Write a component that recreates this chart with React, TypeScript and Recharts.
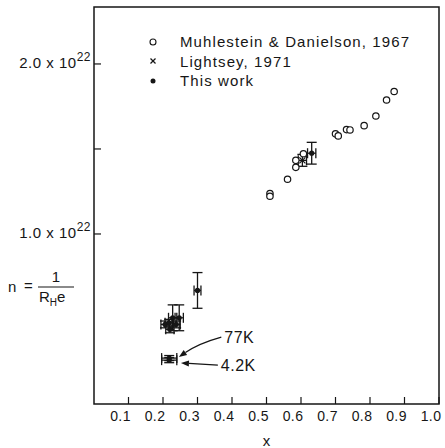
import React from 'react'
import { ScatterChart, Scatter, XAxis, YAxis, ErrorBar, ReferenceArea, ReferenceLine, Legend } from 'recharts'

// values of n are in units of 10^22
const xTicks = [0.1, 0.2, 0.3, 0.4, 0.5, 0.6, 0.7, 0.8, 0.9, 1.0]
const yTicks = [1.0, 1.5, 2.0]
const yTickLabels: Record<string, string> = { '1': '1.0', '2': '2.0' }

const seriesNames = ['Muhlestein & Danielson, 1967', 'Lightsey, 1971', 'This work']

const muhlesteinX = [0.51, 0.51, 0.561, 0.585, 0.585, 0.607, 0.70, 0.708, 0.732, 0.742, 0.783, 0.817, 0.848, 0.870]
const muhlesteinN = [1.238, 1.222, 1.322, 1.392, 1.433, 1.472, 1.589, 1.577, 1.614, 1.612, 1.637, 1.694, 1.788, 1.838]

const lightseyX = [0.604]
const lightseyN = [1.433]
const lightseyErrX = [0.012]
const lightseyErrN = [0.035]

const thisWorkX = [0.30, 0.228, 0.247, 0.206, 0.22, 0.238, 0.218, 0.218, 0.218, 0.631]
const thisWorkN = [0.668, 0.507, 0.507, 0.468, 0.439, 0.468, 0.478, 0.27, 0.258, 1.475]
const thisWorkErrX = [0.01, 0.012, 0.012, 0.012, 0.012, 0.012, 0.012, 0.022, 0.022, 0.012]
const thisWorkErrN = [0.105, 0.076, 0.076, 0.02, 0.02, 0.02, 0.02, 0.015, 0.015, 0.064]

const annoLabels = ['77K', '4.2K']
const annoFromX = [0.369, 0.359]
const annoFromN = [0.394, 0.229]
const annoToX = [0.246, 0.252]
const annoToN = [0.276, 0.241]
const annoBend = [4, 0]

const muhlestein = muhlesteinX.map((x, i) => ({ x, y: muhlesteinN[i] }))
const lightsey = lightseyX.map((x, i) => ({ x, y: lightseyN[i], ex: lightseyErrX[i], ey: lightseyErrN[i] }))
const thisWork = thisWorkX.map((x, i) => ({ x, y: thisWorkN[i], ex: thisWorkErrX[i], ey: thisWorkErrN[i] }))

const font = "'Liberation Sans', Arial, sans-serif"
const ink = '#161616'

const Circle = (p: any) => <circle cx={p.cx} cy={p.cy} r={3.2} fill="#fff" stroke={ink} strokeWidth={1.2} />
const Dot = (p: any) => <circle cx={p.cx} cy={p.cy} r={2.6} fill={ink} />
const Cross = (p: any) => (
  <g stroke={ink} strokeWidth={1.3}>
    <line x1={p.cx - 3} y1={p.cy - 3} x2={p.cx + 3} y2={p.cy + 3} />
    <line x1={p.cx - 3} y1={p.cy + 3} x2={p.cx + 3} y2={p.cy - 3} />
  </g>
)

const XTick = ({ x, y, payload }: any) => (
  <g>
    <line x1={x} y1={y} x2={x} y2={y - 7} stroke={ink} strokeWidth={1.2} />
    <text x={x - 8} y={y + 17} textAnchor="middle" fontSize={14} letterSpacing={0.4} fill={ink} style={{ fontFamily: font }}>
      {payload.value.toFixed(1)}
    </text>
  </g>
)

const YTick = ({ x, y, payload }: any) => {
  const lab = yTickLabels[String(payload.value)]
  return (
    <g>
      <line x1={x} y1={y} x2={x + 7} y2={y} stroke={ink} strokeWidth={1.2} />
      {lab && (
        <text x={x - 3} y={y + 4} textAnchor="end" fontSize={15} letterSpacing={0.5} fill={ink} style={{ fontFamily: font }}>
          {lab} x 10<tspan dy={-7} fontSize={12}>22</tspan>
        </text>
      )}
    </g>
  )
}

const YLabel = (props: any) => {
  const vb = props.viewBox
  const x0 = vb.x
  const yc = 287
  return (
    <g fill={ink} style={{ fontFamily: font }} fontSize={15}>
      <text x={x0 + 8} y={yc + 5}>n</text>
      <text x={x0 + 24} y={yc + 4}>=</text>
      <text x={x0 + 56} y={yc - 5} textAnchor="middle">1</text>
      <line x1={x0 + 38} y1={yc} x2={x0 + 74} y2={yc} stroke={ink} strokeWidth={1.2} />
      <text x={x0 + 39} y={yc + 15}>R<tspan dy={4} fontSize={10}>H</tspan><tspan dy={-4}>e</tspan></text>
    </g>
  )
}

const makeArrow = (label: string, bend: number) => (p: any) => {
  const { x1, y1, x2, y2 } = p
  const dx = x2 - x1
  const dy = y2 - y1
  const len = Math.hypot(dx, dy) || 1
  const cx = (x1 + x2) / 2 - (dy / len) * bend
  const cy = (y1 + y2) / 2 + (dx / len) * bend
  const ang = Math.atan2(y2 - cy, x2 - cx)
  const hl = 8
  const hw = 3
  const bx = x2 - hl * Math.cos(ang)
  const by = y2 - hl * Math.sin(ang)
  const pts = `${x2},${y2} ${bx - hw * Math.sin(ang)},${by + hw * Math.cos(ang)} ${bx + hw * Math.sin(ang)},${by - hw * Math.cos(ang)}`
  return (
    <g>
      <path d={`M${x1},${y1} Q${cx},${cy} ${bx},${by}`} fill="none" stroke={ink} strokeWidth={1.3} />
      <polygon points={pts} fill={ink} />
      <text x={x1 + 3} y={y1 + 6} fontSize={16} letterSpacing={0.5} fill={ink} style={{ fontFamily: font }}>{label}</text>
    </g>
  )
}

const symbols: React.ReactNode[] = [
  <circle cx={6} cy={6} r={3} fill="#fff" stroke={ink} strokeWidth={1.1} />,
  <g stroke={ink} strokeWidth={1.2}>
    <line x1={3.5} y1={3.5} x2={8.5} y2={8.5} />
    <line x1={3.5} y1={8.5} x2={8.5} y2={3.5} />
  </g>,
  <circle cx={6} cy={6} r={2.5} fill={ink} />,
]

const LegendBox = () => (
  <div style={{ fontFamily: font, fontSize: 15, color: ink, letterSpacing: 1.1 }}>
    {seriesNames.map((name, i) => (
      <div key={name} style={{ display: 'flex', alignItems: 'center', height: 19.5 }}>
        <svg width={12} height={12} style={{ marginRight: 21 }}>{symbols[i]}</svg>
        <span>{name}</span>
      </div>
    ))}
  </div>
)

export default function App() {
  return (
    <div style={{ position: 'absolute', left: 0, top: 0, fontFamily: font }}>
      <ScatterChart width={445} height={448} margin={{ top: 7, right: 6, left: 0, bottom: 0 }}>
        <XAxis
          type="number"
          dataKey="x"
          domain={[0, 1]}
          ticks={xTicks}
          tick={<XTick />}
          tickSize={0}
          tickMargin={0}
          axisLine={false}
          tickLine={false}
          height={44}
          interval={0}
          label={{ value: 'x', position: 'insideBottom', offset: 2, fontSize: 15, fill: ink, style: { fontFamily: font } }}
        />
        <YAxis
          type="number"
          dataKey="y"
          domain={[0, 2.335]}
          ticks={yTicks}
          tick={<YTick />}
          tickSize={0}
          tickMargin={0}
          axisLine={false}
          tickLine={false}
          width={94}
          interval={0}
          label={{ content: YLabel }}
        />
        <ReferenceArea x1={0} x2={1} y1={0} y2={2.335} fill="none" stroke={ink} strokeWidth={1.5} />
        <Legend
          content={LegendBox}
          layout="vertical"
          align="center"
          verticalAlign="middle"
          wrapperStyle={{ position: 'absolute', left: 147, top: 32, width: 'auto', height: 'auto' }}
        />
        <Scatter name={seriesNames[0]} data={muhlestein} shape={Circle} isAnimationActive={false} />
        <Scatter name={seriesNames[1]} data={lightsey} shape={Cross} isAnimationActive={false}>
          <ErrorBar dataKey="ey" direction="y" width={5} stroke={ink} strokeWidth={1.3} isAnimationActive={false} />
          <ErrorBar dataKey="ex" direction="x" width={5} stroke={ink} strokeWidth={1.3} isAnimationActive={false} />
        </Scatter>
        <Scatter name={seriesNames[2]} data={thisWork} shape={Dot} isAnimationActive={false}>
          <ErrorBar dataKey="ey" direction="y" width={5} stroke={ink} strokeWidth={1.3} isAnimationActive={false} />
          <ErrorBar dataKey="ex" direction="x" width={5} stroke={ink} strokeWidth={1.3} isAnimationActive={false} />
        </Scatter>
        {annoLabels.map((lab, i) => (
          <ReferenceLine
            key={lab}
            segment={[{ x: annoFromX[i], y: annoFromN[i] }, { x: annoToX[i], y: annoToN[i] }]}
            shape={makeArrow(lab, annoBend[i])}
          />
        ))}
      </ScatterChart>
    </div>
  )
}
